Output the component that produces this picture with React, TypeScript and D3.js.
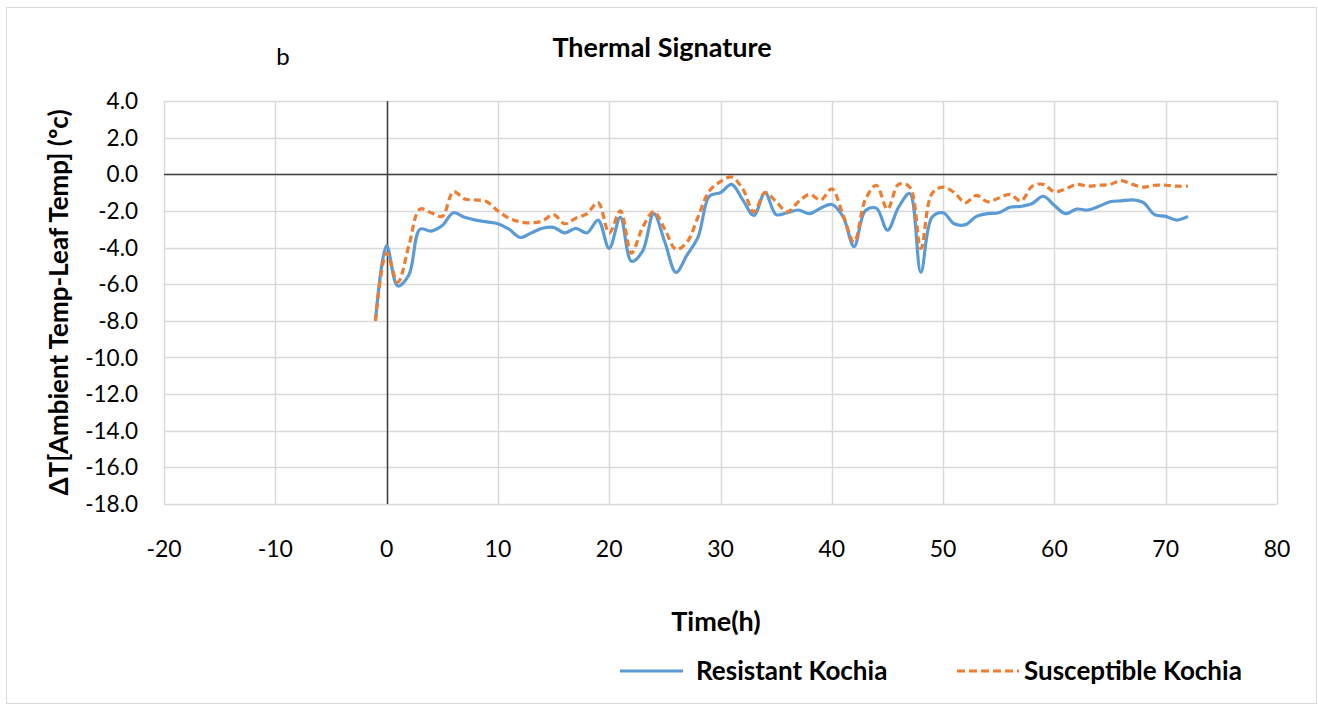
import React, { useEffect, useRef } from "react"
import * as d3 from "d3"

// hours after treatment
const hours = d3.range(-1, 73)

// ΔT for resistant kochia, one value per hour from -1 to 72
const resistant = [
  -8.0, -3.9, -6.1, -5.5, -3.0, -3.1, -2.8, -2.1, -2.35, -2.5,
  -2.6, -2.7, -3.0, -3.45, -3.2, -2.95, -2.9, -3.2, -2.95, -3.2,
  -2.5, -4.05, -2.35, -4.75, -4.2, -2.15, -3.7, -5.35, -4.4, -3.4,
  -1.2, -1.0, -0.55, -1.4, -2.25, -1.0, -2.2, -2.1, -1.95, -2.15,
  -1.85, -1.65, -2.3, -3.95, -2.0, -1.85, -3.05, -1.8, -1.05, -5.35,
  -2.35, -2.1, -2.7, -2.75, -2.3, -2.15, -2.1, -1.8, -1.75, -1.6,
  -1.2, -1.7, -2.15, -1.9, -1.95, -1.75, -1.5, -1.45, -1.4, -1.55,
  -2.2, -2.3, -2.5, -2.3,
]

// ΔT for susceptible kochia
const susceptible = [
  -8.0, -4.3, -5.9, -3.9, -1.9, -2.1, -2.3, -0.95, -1.35, -1.4,
  -1.5, -2.0, -2.4, -2.6, -2.65, -2.55, -2.2, -2.7, -2.4, -2.15,
  -1.55, -3.2, -2.0, -4.3, -2.9, -2.05, -3.0, -4.1, -3.7, -2.3,
  -0.9, -0.4, -0.15, -0.8, -2.05, -1.0, -1.5, -2.05, -1.5, -1.1,
  -1.4, -0.8, -2.2, -3.7, -1.4, -0.6, -1.9, -0.55, -0.7, -4.05,
  -1.05, -0.7, -1.0, -1.55, -1.15, -1.5, -1.3, -1.1, -1.45, -0.65,
  -0.55, -0.95, -0.8, -0.55, -0.65, -0.6, -0.55, -0.35, -0.55, -0.7,
  -0.6, -0.6, -0.65, -0.65,
]

const xTicks = [-20, -10, 0, 10, 20, 30, 40, 50, 60, 70, 80]
const yTicks = [4, 2, 0, -2, -4, -6, -8, -10, -12, -14, -16, -18]

const seriesNames = ["Resistant Kochia", "Susceptible Kochia"]

const W = 1318
const H = 705
const FONT = "Lato, 'Open Sans', sans-serif"

function App() {
  const ref = useRef<SVGSVGElement>(null)

  useEffect(() => {
    const svg = d3.select(ref.current)
    svg.selectAll("*").remove()

    const left = 164
    const right = 1277
    const top = 101
    const bottom = 504

    const x = d3.scaleLinear().domain([-20, 80]).range([left, right])
    const y = d3.scaleLinear().domain([4, -18]).range([top, bottom])

    // outer chart border
    svg.append("rect")
      .attr("x", 6.5).attr("y", 7.5)
      .attr("width", W - 8).attr("height", H - 9)
      .attr("fill", "white")
      .attr("stroke", "#d9d9d9")

    // gridlines
    const grid = svg.append("g").attr("stroke", "#d9d9d9").attr("stroke-width", 1.5)
    yTicks.forEach(t => {
      grid.append("line")
        .attr("x1", left).attr("x2", right)
        .attr("y1", Math.round(y(t)) + 0.5).attr("y2", Math.round(y(t)) + 0.5)
    })
    xTicks.forEach(t => {
      grid.append("line")
        .attr("x1", Math.round(x(t)) + 0.5).attr("x2", Math.round(x(t)) + 0.5)
        .attr("y1", top).attr("y2", bottom)
    })

    // zero axes
    svg.append("line")
      .attr("x1", left).attr("x2", right)
      .attr("y1", Math.round(y(0)) + 0.5).attr("y2", Math.round(y(0)) + 0.5)
      .attr("stroke", "#404040").attr("stroke-width", 1.5)
    svg.append("line")
      .attr("x1", Math.round(x(0)) + 0.5).attr("x2", Math.round(x(0)) + 0.5)
      .attr("y1", top).attr("y2", bottom)
      .attr("stroke", "#404040").attr("stroke-width", 1.5)

    // tick labels (plain hyphen minus like the original)
    svg.append("g").selectAll("text").data(yTicks).enter().append("text")
      .attr("x", 138).attr("y", d => y(d))
      .attr("dy", "0.36em")
      .attr("text-anchor", "end")
      .attr("font-family", FONT).attr("font-size", 22.5)
      .attr("fill", "#000")
      .text(d => d.toFixed(1))

    svg.append("g").selectAll("text").data(xTicks).enter().append("text")
      .attr("x", d => x(d)).attr("y", 557)
      .attr("text-anchor", "middle")
      .attr("font-family", FONT).attr("font-size", 23)
      .attr("fill", "#000")
      .text(d => String(d))

    // series
    const line = d3.line<number>()
      .x((d, i) => x(hours[i]))
      .y(d => y(d))
      .curve(d3.curveCatmullRom.alpha(0.5))

    svg.append("path")
      .datum(resistant)
      .attr("d", line)
      .attr("fill", "none")
      .attr("stroke", "#5b9bd5")
      .attr("stroke-width", 3.2)
      .attr("stroke-linejoin", "round")

    svg.append("path")
      .datum(susceptible)
      .attr("d", line)
      .attr("fill", "none")
      .attr("stroke", "#ed7d31")
      .attr("stroke-width", 3.2)
      .attr("stroke-dasharray", "7,4")

    // titles
    svg.append("text")
      .attr("x", 662).attr("y", 57)
      .attr("text-anchor", "middle")
      .attr("font-family", FONT).attr("font-size", 27).attr("font-weight", "bold")
      .text("Thermal Signature")

    svg.append("text")
      .attr("x", 283).attr("y", 65)
      .attr("text-anchor", "middle")
      .attr("font-family", FONT).attr("font-size", 24)
      .text("b")

    svg.append("text")
      .attr("transform", `translate(68, ${(top + bottom) / 2}) rotate(-90)`)
      .attr("text-anchor", "middle")
      .attr("font-family", FONT).attr("font-size", 26).attr("font-weight", "bold")
      .text("ΔT[Ambient Temp-Leaf Temp] (ºc)")

    svg.append("text")
      .attr("x", 716).attr("y", 631)
      .attr("text-anchor", "middle")
      .attr("font-family", FONT).attr("font-size", 27).attr("font-weight", "bold")
      .text("Time(h)")

    // legend
    const legend = svg.append("g")
    legend.append("line")
      .attr("x1", 620).attr("x2", 683).attr("y1", 671).attr("y2", 671)
      .attr("stroke", "#5b9bd5").attr("stroke-width", 3.2)
    legend.append("text")
      .attr("x", 696).attr("y", 680)
      .attr("font-family", FONT).attr("font-size", 26).attr("font-weight", "bold")
      .text(seriesNames[0])
    legend.append("line")
      .attr("x1", 957).attr("x2", 1019).attr("y1", 671).attr("y2", 671)
      .attr("stroke", "#ed7d31").attr("stroke-width", 3.2)
      .attr("stroke-dasharray", "8,4")
    legend.append("text")
      .attr("x", 1024).attr("y", 680)
      .attr("font-family", FONT).attr("font-size", 26).attr("font-weight", "bold")
      .text(seriesNames[1])
  }, [])

  return (
    <svg
      ref={ref}
      width={W}
      height={H}
      style={{ position: "absolute", left: 0, top: 0, display: "block" }}
    />
  )
}

export default App
